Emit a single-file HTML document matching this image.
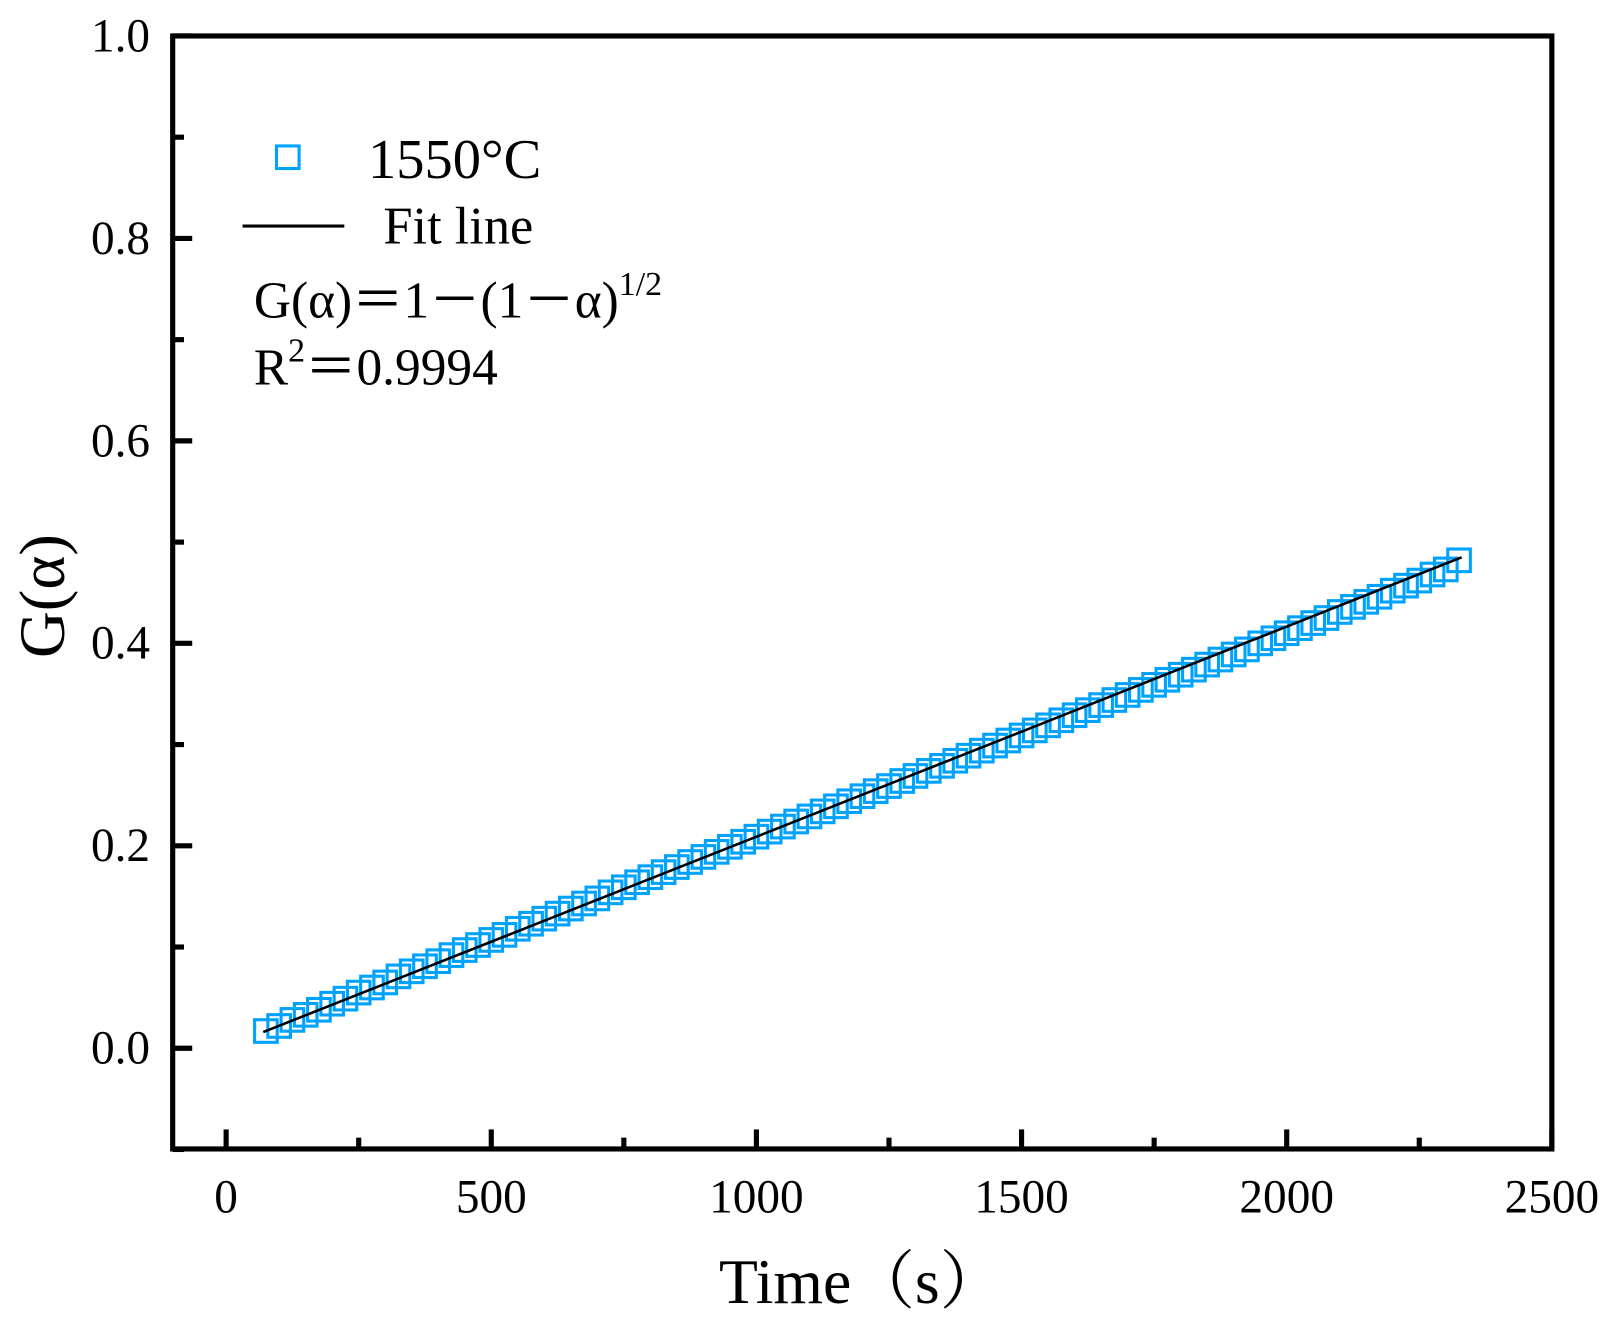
<!DOCTYPE html>
<html><head><meta charset="utf-8"><style>body{margin:0;background:#fff}</style></head>
<body>
<svg id="c" width="1612" height="1325" viewBox="0 0 1568.5 1289.3" xmlns="http://www.w3.org/2000/svg" font-family="Liberation Serif, serif" style="position:absolute;left:0;top:0"></svg>
<script>
const times=[];for(let i=0;i<91;i++)times.push(75+i*25);
const gValues=[0.017,0.022,0.028,0.033,0.038,0.044,0.049,0.055,0.060,0.065,
0.071,0.076,0.081,0.086,0.092,0.097,0.102,0.107,0.112,0.118,
0.123,0.128,0.133,0.138,0.143,0.148,0.154,0.159,0.164,0.169,
0.174,0.179,0.184,0.189,0.194,0.199,0.204,0.209,0.214,0.219,
0.224,0.229,0.234,0.239,0.244,0.249,0.254,0.259,0.264,0.269,
0.274,0.279,0.284,0.289,0.294,0.299,0.304,0.309,0.314,0.319,
0.324,0.329,0.334,0.339,0.344,0.349,0.354,0.359,0.364,0.369,
0.374,0.379,0.384,0.389,0.394,0.400,0.405,0.410,0.415,0.420,
0.425,0.431,0.436,0.441,0.446,0.452,0.457,0.462,0.468,0.473,0.482];
const fitT=[70,2330];
const fitG=[0.016,0.485];
const xTicks=[0,500,1000,1500,2000,2500];
const yTicks=[0.0,0.2,0.4,0.6,0.8,1.0];
const NS='http://www.w3.org/2000/svg';
const svg=document.getElementById('c');
const X=v=>220+v*0.516;
const Y=v=>1020-v*985;
function mk(t,a,p){const e=document.createElementNS(NS,t);for(const k in a)e.setAttribute(k,a[k]);(p||svg).appendChild(e);return e;}
const gm=mk('g',{});


times.forEach((t,i)=>{const r=mk('rect',{x:X(t)-11,y:Y(gValues[i])-11,width:22,height:22,fill:'none',stroke:'#00a2ff','stroke-width':3},gm);

});
const fl=mk('line',{x1:X(fitT[0]),y1:Y(fitG[0]),x2:X(fitT[1]),y2:Y(fitG[1]),stroke:'#000','stroke-width':2.5});


const fr=mk('rect',{x:168,y:35,width:1342,height:1083,fill:'none',stroke:'#000','stroke-width':5});


for(let v=0;v<=2500;v+=250){const major=v%500==0;mk('line',{x1:X(v),x2:X(v),y1:1118,y2:1118-(major?19:11),stroke:'#000','stroke-width':5});}
xTicks.forEach(v=>{const t=mk('text',{x:X(v),y:1180,'font-size':46,'text-anchor':'middle'});t.textContent=v;

});
for(let i=-1;i<=10;i++){const v=i/10;const major=((i%2)+2)%2==0;mk('line',{x1:168,x2:168+(major?19:11),y1:Y(v),y2:Y(v),stroke:'#000','stroke-width':5});}
yTicks.forEach(v=>{const t=mk('text',{x:146,y:Y(v)+15,'font-size':46,'text-anchor':'end'});t.textContent=v.toFixed(1);

});
</script>
<svg width="1612" height="1325" viewBox="0 0 1568.5 1289.3" style="position:absolute;left:0;top:0" font-family="Liberation Serif, serif">
<text x="838" y="1268" font-size="62" text-anchor="middle" font-family="Liberation Serif, Noto Serif CJK SC, serif">Time（s）</text>
<text transform="translate(62,580) rotate(-90)" font-size="63" text-anchor="middle">G(α)</text>
<rect x="269" y="142" width="22" height="22" fill="none" stroke="#00a2ff" stroke-width="3"/>
<text x="358" y="173" font-size="55">1550°C</text>
<line x1="236" y1="220" x2="335" y2="220" stroke="#000" stroke-width="3"/>
<text x="373" y="237" font-size="51">Fit line</text>
<text x="247" y="309" font-size="50">G(α)＝1－(1－α)<tspan font-size="33" dy="-22">1/2</tspan></text>
<text x="247" y="374" font-size="50">R<tspan font-size="33" dy="-22">2</tspan><tspan dy="22">＝0.9994</tspan></text>
</svg>
</body></html>
